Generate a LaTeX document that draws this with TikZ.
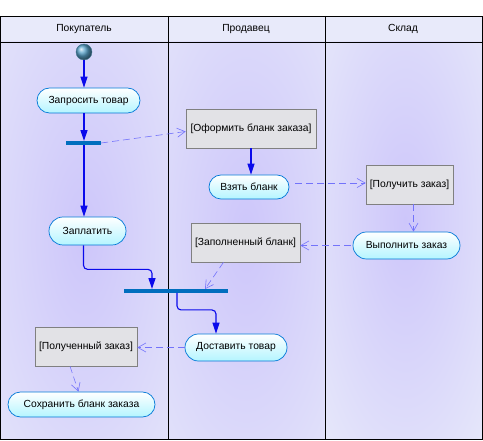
\documentclass[tikz,border=0pt]{standalone}
\usepackage{fontspec}
\setmainfont{Liberation Sans}
\usetikzlibrary{arrows.meta,shapes.misc}
\definecolor{bgc}{RGB}{232,234,250}
\definecolor{glow}{RGB}{205,198,250}
\definecolor{actline}{RGB}{0,120,215}
\definecolor{actfill}{RGB}{180,245,255}
\definecolor{barc}{RGB}{0,110,190}
\definecolor{flow}{RGB}{10,10,235}
\definecolor{objflow}{RGB}{115,115,250}
\definecolor{boxfill}{RGB}{226,226,230}
\definecolor{boxline}{RGB}{128,128,128}
\definecolor{ballc}{RGB}{90,165,205}
\tikzset{
  act/.style={rounded rectangle, draw=actline, line width=0.7pt, top color=white, bottom color=actfill, inner sep=0pt},
  objbox/.style={rectangle, draw=boxline, line width=0.6pt, fill=boxfill, inner sep=0pt},
  syncbar/.style={rectangle, fill=barc, inner sep=0pt, minimum height=3.5pt},
  flowline/.style={draw=flow, line width=1.1pt, -{Triangle[width=7pt,length=11pt]}},
  objline/.style={draw=objflow, line width=0.6pt, dash pattern=on 7pt off 4pt, -{Straight Barb[length=8pt,width=9pt]}},
  hdr/.style={inner sep=0pt},
  lane/.style={draw=black, line width=0.8pt}
}
\begin{document}
\begin{tikzpicture}[x=1pt,y=-1pt,font=\fontsize{10.3}{12}\selectfont]
\useasboundingbox (0,0) rectangle (483,441);
\fill[bgc] (0,16) rectangle (482,439);
\begin{scope}
\clip (0,42) rectangle (168,439);
\shade[inner color=glow, outer color=bgc] (-70,-150) rectangle (238,620);
\end{scope}
\begin{scope}
\clip (168,42) rectangle (325,439);
\shade[inner color=glow, outer color=bgc] (92,-150) rectangle (400,620);
\end{scope}
\begin{scope}
\clip (325,42) rectangle (482,439);
\shade[inner color=glow, outer color=bgc] (280,-110) rectangle (530,550);
\end{scope}
\draw[lane] (0,16) rectangle (482,439);
\draw[lane] (0,42) -- (482,42);
\draw[lane] (168,16) -- (168,439);
\draw[lane] (325,16) -- (325,439);
\node[hdr] (h1) at (84,29) {Покупатель};
\node[hdr] (h2) at (246,29) {Продавец};
\node[hdr] (h3) at (403,29) {Склад};

\node[circle, minimum size=16pt, inner sep=0pt, ball color=ballc, draw=ballc!70!black, line width=0.4pt] (start) at (84,52) {};
\node[act, minimum width=103pt, minimum height=25pt] (req) at (88.5,100.5) {Запросить товар};
\node[syncbar, minimum width=35pt] (bar1) at (83.5,143) {};
\node[act, minimum width=77pt, minimum height=28pt] (pay) at (87.5,231) {Заплатить};
\node[objbox, minimum width=130pt, minimum height=39pt] (form) at (251,128.5) {[Оформить бланк заказа]};
\node[act, minimum width=80pt, minimum height=24pt] (take) at (249,187) {Взять бланк};
\node[objbox, minimum width=87pt, minimum height=39pt] (get) at (409.5,184.5) {[Получить заказ]};
\node[act, minimum width=107pt, minimum height=27pt] (exec) at (406.5,245.5) {Выполнить заказ};
\node[objbox, minimum width=109pt, minimum height=39pt] (filled) at (245.5,242.5) {[Заполненный бланк]};
\node[syncbar, minimum width=104pt] (join) at (176,291) {};
\node[act, minimum width=102pt, minimum height=27pt] (deliver) at (236,347.5) {Доставить товар};
\node[objbox, minimum width=102pt, minimum height=39pt] (recv) at (86,346.5) {[Полученный заказ]};
\node[act, minimum width=147pt, minimum height=25pt] (save) at (81.5,404.5) {Сохранить бланк заказа};

\draw[flowline] (start) -- (req.north -| start);
\draw[flowline] (req.south -| start) -- (bar1.north -| start);
\draw[flowline] (bar1.south -| start) -- (pay.north -| start);
\draw[objline] (bar1.east) -- ([yshift=-3pt]form.west);
\draw[flowline] (form.south) -- (form.south |- take.north);
\draw[objline, shorten <=6pt] ([yshift=4pt]take.east) -- ([yshift=4pt]take.east -| get.west);
\draw[objline] ([xshift=4pt]get.south) -- ([xshift=4pt]get.south |- exec.north);
\draw[objline, shorten <=2pt] (exec.west) -- (exec.west -| filled.east);
\draw[objline] ([xshift=-22pt]filled.south) -- ([xshift=29pt]join.north);
\draw[flowline, rounded corners=4pt] ([xshift=-4pt]pay.south) -- ++(0,24) -| ([xshift=-24pt]join.north);
\draw[flowline, rounded corners=4pt] ([xshift=1pt]join.south) -- ++(0,17) -| ([xshift=-20pt]deliver.north);
\draw[objline] (deliver.west) -- (deliver.west -| recv.east);
\draw[objline] ([xshift=-16pt]recv.south) -- ([xshift=-3pt]save.north);
\end{tikzpicture}
\end{document}
